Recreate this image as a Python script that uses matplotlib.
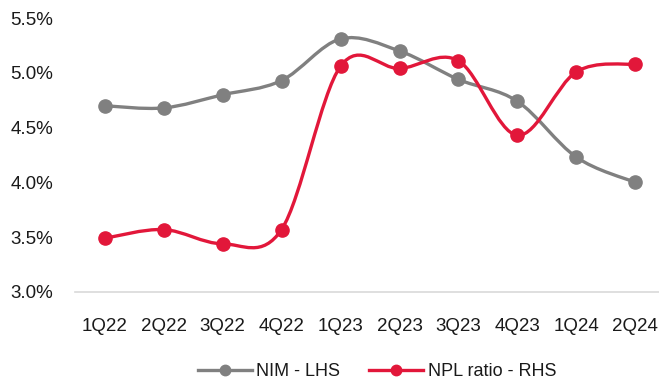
import matplotlib
matplotlib.use('Agg')
import matplotlib.pyplot as plt
from matplotlib.path import Path
import matplotlib.patches as mpatches
from matplotlib.lines import Line2D
from matplotlib.ticker import FuncFormatter
import numpy as np

# Dados
trimestres = ['1Q22', '2Q22', '3Q22', '4Q22', '1Q23', '2Q23', '3Q23', '4Q23', '1Q24', '2Q24']
nim = [4.70, 4.68, 4.80, 4.93, 5.31, 5.20, 4.94, 4.74, 4.23, 4.00]
npl = [3.49, 3.57, 3.44, 3.57, 5.06, 5.04, 5.11, 4.43, 5.01, 5.08]

COR_NIM = '#808080'
COR_NPL = '#E2173A'
COR_EIXO = '#D9D9D9'
COR_TEXTO = '#1A1A1A'

plt.rcParams['font.family'] = ['Liberation Sans Narrow', 'Liberation Sans', 'DejaVu Sans']


def curva_suave(ax, x, y, cor):
    """Linha suavizada no estilo Excel (Bezier com tangentes de Catmull-Rom)."""
    pts = np.column_stack([x, y]).astype(float)
    n = len(pts)
    verts = [pts[0]]
    codes = [Path.MOVETO]
    for i in range(n - 1):
        p0 = pts[max(i - 1, 0)]
        p1 = pts[i]
        p2 = pts[i + 1]
        p3 = pts[min(i + 2, n - 1)]
        c1 = p1 + (p2 - p0) / 6
        c2 = p2 - (p3 - p1) / 6
        verts += [c1, c2, p2]
        codes += [Path.CURVE4] * 3
    patch = mpatches.PathPatch(Path(verts, codes), facecolor='none', edgecolor=cor,
                               linewidth=2.4, capstyle='round', zorder=2)
    ax.add_patch(patch)
    ax.plot(x, y, linestyle='none', marker='o', markersize=9.5, color=cor, zorder=3)


fig = plt.figure(figsize=(6.59, 3.85), dpi=100)
ax = fig.add_axes([0.114, 0.2416, 0.886, 0.7114])
ax2 = ax.twinx()

x = np.arange(len(trimestres))
curva_suave(ax, x, nim, COR_NIM)
curva_suave(ax2, x, npl, COR_NPL)

for a in (ax, ax2):
    a.set_ylim(3.0, 5.5)
    a.set_xlim(-0.5, 9.4)
    for s in a.spines.values():
        s.set_visible(False)

ax.spines['bottom'].set_visible(True)
ax.spines['bottom'].set_color(COR_EIXO)
ax.spines['bottom'].set_linewidth(1.2)

ax.set_yticks([3.0, 3.5, 4.0, 4.5, 5.0, 5.5])
ax.yaxis.set_major_formatter(FuncFormatter(lambda v, p: f'{v:.1f}%'))
ax.set_xticks(x)
ax.set_xticklabels(trimestres)
ax.tick_params(axis='both', length=0, labelsize=13.5, colors=COR_TEXTO)
ax.tick_params(axis='x', pad=19)
ax.tick_params(axis='y', pad=16)
ax2.set_yticks([])

handles = [
    Line2D([], [], color=COR_NIM, linewidth=2.4, marker='o', markersize=7.5, label='NIM - LHS'),
    Line2D([], [], color=COR_NPL, linewidth=2.4, marker='o', markersize=7.5, label='NPL ratio - RHS'),
]
fig.legend(handles=handles, loc='center', bbox_to_anchor=(0.572, 0.034), ncol=2,
           frameon=False, fontsize=13, handlelength=3.0, columnspacing=1.6,
           handletextpad=0.25, labelcolor=COR_TEXTO, borderaxespad=0, borderpad=0)

fig.savefig('out.png', dpi=100, facecolor='white')
